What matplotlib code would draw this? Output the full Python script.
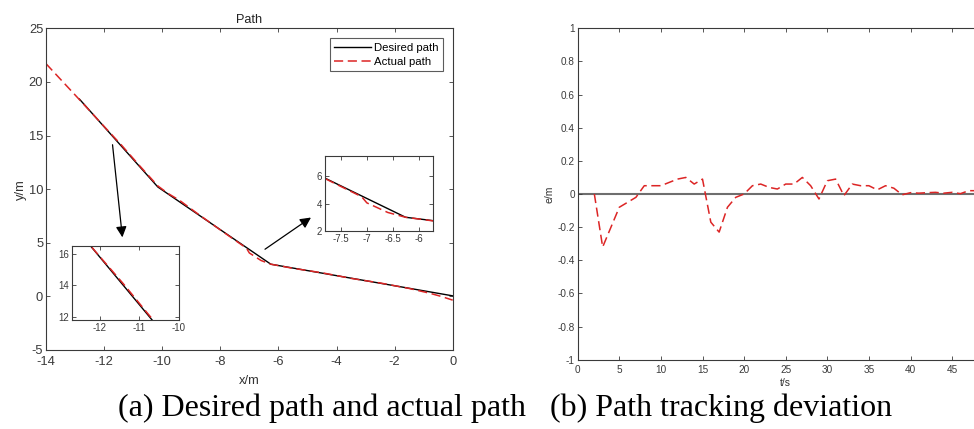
import matplotlib
matplotlib.use("Agg")
import matplotlib.pyplot as plt
import numpy as np

# ---------------- data ----------------
desired_x = [-12.85, -10.15, -6.26, 0.0]
desired_y = [18.4, 10.2, 3.0, 0.05]

actual_x = [-14.0, -12.85, -12.0, -11.4, -10.8, -10.15, -9.8, -9.4, -8.8, -8.0,
            -7.5, -7.1, -7.0, -6.6, -6.26, -5.5, -4.5, -3.5, -2.5, -1.5, -0.8, -0.4, 0.0]
actual_y = [21.7, 18.35, 15.85, 14.1, 12.25, 10.3, 9.6, 8.95, 7.75, 6.2,
            5.25, 4.5, 4.05, 3.35, 3.0, 2.62, 2.2, 1.68, 1.25, 0.74, 0.3, 0.0, -0.35]

t_vals = list(range(2, 49))
e_vals = [0.0, -0.32, -0.2, -0.08, -0.05, -0.02, 0.05, 0.05, 0.05, 0.07,
          0.09, 0.1, 0.06, 0.09, -0.17, -0.23, -0.08, -0.02, 0.0, 0.05,
          0.06, 0.04, 0.03, 0.06, 0.06, 0.1, 0.05, -0.03, 0.08, 0.09,
          -0.01, 0.06, 0.05, 0.05, 0.025, 0.05, 0.035, -0.005, 0.008, 0.005,
          0.008, 0.01, 0.005, 0.01, 0.002, 0.02, 0.02]

left_xticks = [-14, -12, -10, -8, -6, -4, -2, 0]
left_yticks = [-5, 0, 5, 10, 15, 20, 25]
right_xticks = [0, 5, 10, 15, 20, 25, 30, 35, 40, 45, 50]
right_yticks = [-1, -0.8, -0.6, -0.4, -0.2, 0, 0.2, 0.4, 0.6, 0.8, 1]

# ---------------- style ----------------
plt.rcParams['font.family'] = ['Liberation Sans', 'DejaVu Sans']
plt.rcParams['axes.unicode_minus'] = False
AX = '#3a3a3a'
RED = '#dc2525'
DASH = (0, (6, 3))

W, H = 974, 429
fig = plt.figure(figsize=(W / 100, H / 100), dpi=100)


def style_axes(ax, fs):
    for s in ax.spines.values():
        s.set_color(AX)
        s.set_linewidth(0.8)
    ax.tick_params(direction='in', top=True, right=True, colors=AX,
                   labelsize=fs, length=3, width=0.6, pad=2)


# ---------------- left panel ----------------
axL = fig.add_axes([46 / W, 1 - 350 / H, (452.7 - 46) / W, (350 - 28.3) / H])
axL.plot(desired_x, desired_y, color='black', lw=1.0, label='Desired path')
axL.plot(actual_x, actual_y, color=RED, lw=1.1, linestyle=DASH, label='Actual path')
axL.set_xlim(-14, 0)
axL.set_ylim(-5, 25)
axL.set_xticks(left_xticks)
axL.set_yticks(left_yticks)
style_axes(axL, 9.3)
axL.tick_params(axis='x', pad=4)
axL.set_title('Path', fontsize=9.2, color='#222222', pad=4)
axL.set_xlabel('x/m', fontsize=9.3, color='#333333', labelpad=5)
axL.set_ylabel('y/m', fontsize=9.3, color='#333333', labelpad=1)
leg = axL.legend(loc='upper right', fontsize=8.2, frameon=True, fancybox=False,
                 edgecolor='#333333', handlelength=3.2, handletextpad=0.3,
                 borderpad=0.4, labelspacing=0.35, borderaxespad=0.85)
leg.get_frame().set_linewidth(0.8)

# arrows
axL.annotate('', xy=(-11.36, 5.25), xytext=(-11.72, 14.4),
             arrowprops=dict(arrowstyle='-|>', color='black', lw=0.9,
                             mutation_scale=16))
axL.annotate('', xy=(-4.8, 7.5), xytext=(-6.54, 4.25),
             arrowprops=dict(arrowstyle='-|>', color='black', lw=0.9,
                             mutation_scale=16))

# inset 1
in1 = fig.add_axes([71.7 / W, 1 - 320 / H, 107.3 / W, 74 / H])
in1.plot(desired_x, desired_y, color='black', lw=1.0)
in1.plot(actual_x, actual_y, color=RED, lw=1.1, linestyle=DASH)
in1.set_xlim(-12.7, -10)
in1.set_ylim(11.8, 16.5)
in1.set_xticks([-12, -11, -10])
in1.set_yticks([12, 14, 16])
style_axes(in1, 7)

# inset 2
in2 = fig.add_axes([325 / W, 1 - 231 / H, 108.3 / W, 75.5 / H])
in2.plot(desired_x, desired_y, color='black', lw=1.0)
in2.plot(actual_x, actual_y, color=RED, lw=1.1, linestyle=DASH)
in2.set_xlim(-7.8, -5.73)
in2.set_ylim(2, 7.5)
in2.set_xticks([-7.5, -7, -6.5, -6])
in2.set_xticklabels(['-7.5', '-7', '-6.5', '-6'])
in2.set_yticks([2, 4, 6])
style_axes(in2, 7)

# ---------------- right panel ----------------
axR = fig.add_axes([577.7 / W, 1 - 359.7 / H, 416 / W, (359.7 - 28.3) / H])
axR.axhline(0, color='#6e6e6e', lw=1.5, zorder=1)
axR.plot(t_vals, e_vals, color=RED, lw=1.1, linestyle=DASH, zorder=2)
axR.set_xlim(0, 50)
axR.set_ylim(-1, 1)
axR.set_xticks(right_xticks)
axR.set_yticks(right_yticks)
axR.set_yticklabels(['-1', '-0.8', '-0.6', '-0.4', '-0.2', '0', '0.2', '0.4', '0.6', '0.8', '1'])
axR.set_xticklabels(['0', '5', '10', '15', '20', '25', '30', '35', '40', '45', ''])
style_axes(axR, 7.2)
axR.tick_params(axis='x', pad=4)
axR.set_xlabel('t/s', fontsize=7.5, color='#333333', labelpad=2)
axR.set_ylabel('e/m', fontsize=7.5, color='#333333', labelpad=2)

# ---------------- captions ----------------
fig.text(118 / W, 1 - 408 / H, '(a) Desired path and actual path',
         fontsize=23, family='Liberation Serif', va='center', ha='left', color='black')
fig.text(550 / W, 1 - 408 / H, '(b) Path tracking deviation',
         fontsize=23, family='Liberation Serif', va='center', ha='left', color='black')

fig.savefig('out.png', dpi=100, facecolor='white')
